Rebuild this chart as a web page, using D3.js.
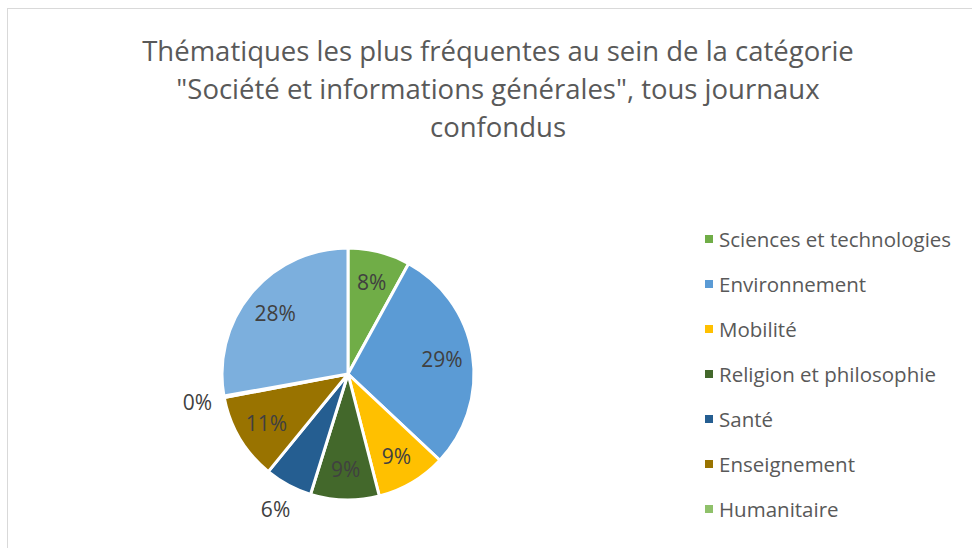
<!DOCTYPE html>
<html>
<head>
<meta charset="utf-8">
<script src="https://cdn.jsdelivr.net/npm/d3@7"></script>
<style>
  html, body { margin: 0; padding: 0; background: #ffffff; }
  svg { display: block; }
</style>
</head>
<body>
<div id="chart"></div>
<script>
const titleLines = [
  "Thématiques les plus fréquentes au sein de la catégorie",
  "\"Société et informations générales\", tous journaux",
  "confondus"
];
const categories = [
  "Sciences et technologies",
  "Environnement",
  "Mobilité",
  "Religion et philosophie",
  "Santé",
  "Enseignement",
  "Humanitaire",
  "Autres"
];
const values = [8.0, 29.0, 9.0, 8.8, 6.1, 11.1, 0.2, 27.8];
const colors = ["#70AD47", "#5B9BD5", "#FFC000", "#43682B", "#255E91", "#997300", "#8FC16A", "#7CAFDD"];
const legendCount = 7; // the last legend entry is clipped by the chart area

const W = 972, H = 548;
const svg = d3.select("#chart").append("svg").attr("width", W).attr("height", H);
const font = "'Open Sans', Lato, sans-serif";

// chart frame
svg.append("rect").attr("x", 7.5).attr("y", 8.5).attr("width", W).attr("height", H)
  .attr("fill", "#fff").attr("stroke", "#d9d9d9").attr("stroke-width", 1);

// title
svg.append("g").selectAll("text").data(titleLines).join("text")
  .attr("x", 498).attr("y", (d, i) => 50 + i * 38)
  .attr("text-anchor", "middle").attr("dominant-baseline", "central")
  .attr("font-family", font).attr("font-size", 27.5).attr("fill", "#595959")
  .text(d => d);

// pie
const cx = 348, cy = 374, R = 126;
const data = categories.map((c, i) => ({ name: c, value: values[i], color: colors[i] }));
const pie = d3.pie().value(d => d.value).sort(null);
const arcs = pie(data);
const arc = d3.arc().innerRadius(0).outerRadius(R);
const g = svg.append("g").attr("transform", `translate(${cx},${cy})`);
g.selectAll("path").data(arcs).join("path")
  .attr("d", arc).attr("fill", d => d.data.color)
  .attr("stroke", "#fff").attr("stroke-width", 3).attr("stroke-linejoin", "round");

const total = d3.sum(values);
const fmt = v => Math.round(v / total * 100) + "%";
const inArc = d3.arc().innerRadius(95).outerRadius(95);
const outArc = d3.arc().innerRadius(153).outerRadius(153);
g.selectAll("text").data(arcs).join("text")
  .attr("transform", d => `translate(${(d.data.value < 7 ? outArc : inArc).centroid(d)})`)
  .attr("text-anchor", "middle").attr("dominant-baseline", "central")
  .attr("font-family", font).attr("font-size", 21).attr("fill", "#404040")
  .text(d => fmt(d.data.value));

// legend
const lg = svg.append("g");
const items = lg.selectAll("g").data(data.slice(0, legendCount)).join("g")
  .attr("transform", (d, i) => `translate(705, ${239 + i * 45})`);
items.append("rect").attr("x", 0).attr("y", -4).attr("width", 8).attr("height", 8)
  .attr("fill", d => d.color);
items.append("text").attr("x", 14).attr("y", 0).attr("dominant-baseline", "central")
  .attr("font-family", font).attr("font-size", 20.5).attr("fill", "#595959")
  .text(d => d.name);
</script>
</body>
</html>
